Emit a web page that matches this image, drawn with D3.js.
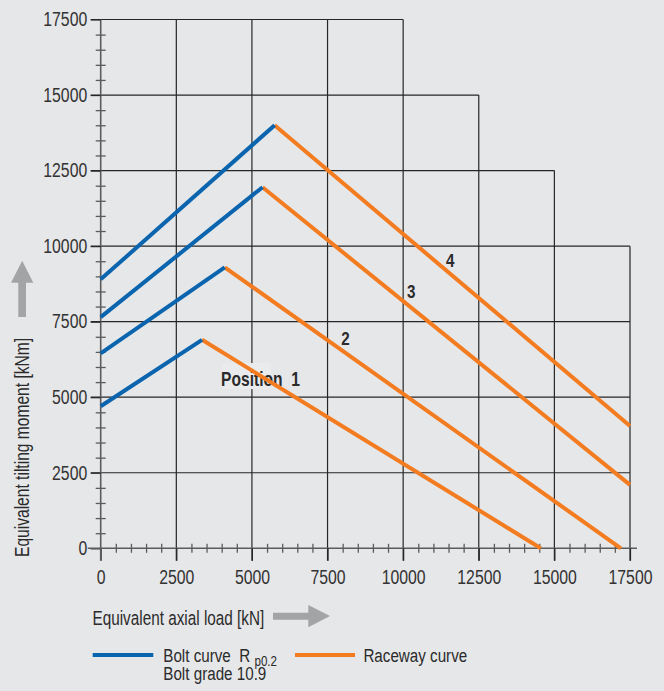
<!DOCTYPE html>
<html>
<head>
<meta charset="utf-8">
<script src="https://cdn.jsdelivr.net/npm/d3@7"></script>
<style>
  html, body { margin: 0; padding: 0; background: #e6e7e9; }
  svg { display: block; }
  text { font-family: "Liberation Sans", Arial, sans-serif; }
</style>
</head>
<body>
<svg id="chart" width="664" height="691"></svg>
<script>
// Axis ticks (kN on x, kNm on y) and where each grid line stops
const xTicks = [0, 2500, 5000, 7500, 10000, 12500, 15000, 17500];
const yTicks = [0, 2500, 5000, 7500, 10000, 12500, 15000, 17500];
const gridReach = [17500, 17500, 17500, 17500, 17500, 15000, 12500, 10000];
const minorStep = 500;

// Load limit curves for bearing positions 1-4
const positions = ["Position  1", "2", "3", "4"];
const boltStartMoment = [4700, 6450, 7650, 8900];     // at zero axial load
const peakLoad = [3350, 4100, 5350, 5750];
const peakMoment = [6900, 9300, 11950, 14000];
const racewayEndLoad = [14550, 17200, 17500, 17500];
const racewayEndMoment = [0, 0, 2100, 4050];

// Anchor of each position label (data units)
const labelLoad = [3980, 7950, 10130, 11420];
const labelMoment = [5370, 6720, 8280, 9300];

const legendItems = ["Bolt curve", "Raceway curve"];

const colors = { bolt: "#0a64ae", raceway: "#f47c20", grid: "#262626", axis: "#5c5c5c", arrow: "#a3a4a6", text: "#2b2b2b" };
const NARROW = 0.8;

// Squeeze text horizontally to a condensed face, keeping its anchor point
function condense(sel, k) {
  sel.each(function () {
    const t = d3.select(this);
    const x0 = +t.attr("x") || 0, y0 = +t.attr("y") || 0;
    t.attr("x", 0).attr("y", 0).attr("transform", `translate(${x0},${y0}) scale(${k},1)`);
  });
}

const svg = d3.select("#chart");
svg.append("rect").attr("width", 664).attr("height", 691).attr("fill", "#e6e7e9");

const x = d3.scaleLinear().domain([0, 17500]).range([100.7, 630]);
const y = d3.scaleLinear().domain([0, 17500]).range([548.3, 19.5]);

// Stepped grid
const grid = svg.append("g").attr("stroke", colors.grid).attr("stroke-width", 1.2);
xTicks.forEach((v, i) => {
  if (v === 0) return;
  grid.append("line")
    .attr("x1", x(v)).attr("x2", x(v))
    .attr("y1", y(0) + 12.5).attr("y2", y(gridReach[i]));
});
yTicks.forEach((v, i) => {
  if (v === 0) return;
  grid.append("line")
    .attr("x1", x(0) - 10).attr("x2", x(gridReach[i]))
    .attr("y1", y(v)).attr("y2", y(v));
});

// Minor ticks crossing both axes
const minorVals = d3.range(0, 17500 + 1, minorStep).filter(v => v % 2500 !== 0);
const minorX = svg.append("g")
  .attr("transform", `translate(0,${y(0) - 4.5})`)
  .call(d3.axisBottom(x).tickValues(minorVals).tickSize(9).tickFormat(""));
const minorY = svg.append("g")
  .attr("transform", `translate(${x(0) + 5},0)`)
  .call(d3.axisLeft(y).tickValues(minorVals).tickSize(10).tickFormat(""));
[minorX, minorY].forEach(g => {
  g.select(".domain").remove();
  g.selectAll("line").attr("stroke", colors.axis).attr("stroke-width", 1.3);
});

// Main axes with labels
const xAxis = svg.append("g")
  .attr("transform", `translate(0,${y(0)})`)
  .call(d3.axisBottom(x).tickValues(xTicks).tickSize(12.5).tickPadding(9).tickSizeOuter(0).tickFormat(d3.format("d")));
const yAxis = svg.append("g")
  .attr("transform", `translate(${x(0)},0)`)
  .call(d3.axisLeft(y).tickValues(yTicks).tickSize(10).tickPadding(3.5).tickSizeOuter(0).tickFormat(d3.format("d")));

xAxis.select(".domain").attr("d", `M${x(0) - 13},0H${x(17500) + 7}`);
yAxis.select(".domain").attr("d", `M0,${y(17500)}V${y(0) + 12.5}`);
[xAxis, yAxis].forEach(g => {
  g.select(".domain").attr("stroke", colors.axis).attr("stroke-width", 1.6);
  g.selectAll(".tick line").attr("stroke", colors.grid).attr("stroke-width", 1.2);
  g.selectAll(".tick text")
    .attr("fill", "#333")
    .style("font-size", "19.5px")
    .style("font-family", '"Liberation Sans", Arial, sans-serif')
    .call(condense, 0.81);
});
xAxis.selectAll(".tick").filter(d => d === 0).select("line").attr("stroke", colors.axis).attr("stroke-width", 1.6);
yAxis.selectAll(".tick").filter(d => d === 0).select("line").attr("stroke", colors.axis).attr("stroke-width", 1.6);

// Position labels (drawn beneath the curves)
const labels = svg.append("g").attr("fill", colors.text).style("font-weight", "bold");
positions.forEach((p, i) => {
  if (i === 0) {
    labels.append("rect")
      .attr("x", x(labelLoad[i]) + 1).attr("y", y(labelMoment[i]) - 23)
      .attr("width", 49).attr("height", 26)
      .attr("fill", "#eaebed");
  }
  labels.append("text")
    .attr("x", x(labelLoad[i])).attr("y", y(labelMoment[i]))
    .style("font-size", i === 0 ? "19.5px" : "19px")
    .style("white-space", "pre")
    .text(p)
    .call(condense, NARROW);
});

// Curves
const line = d3.line().x(d => x(d[0])).y(d => y(d[1]));
const curves = svg.append("g").attr("fill", "none").attr("stroke-width", 4).attr("stroke-linecap", "butt");
positions.forEach((p, i) => {
  curves.append("path")
    .attr("stroke", colors.raceway)
    .attr("d", line([[peakLoad[i], peakMoment[i]], [racewayEndLoad[i], racewayEndMoment[i]]]));
  curves.append("path")
    .attr("stroke", colors.bolt)
    .attr("d", line([[0, boltStartMoment[i]], [peakLoad[i], peakMoment[i]]]));
});

// Axis titles with direction arrows
svg.append("text")
  .attr("x", 92.5).attr("y", 625)
  .attr("fill", colors.text)
  .style("font-size", "19.5px")
  .text("Equivalent axial load [kN]")
  .call(condense, 0.785);
svg.append("path")
  .attr("fill", colors.arrow)
  .attr("d", "M273,612.7H308.3V605L330,616L308.3,627.3V619.7H273Z");

svg.append("text")
  .attr("transform", `translate(29,557) rotate(-90) scale(${NARROW},1)`)
  .attr("fill", colors.text)
  .style("font-size", "19.5px")
  .text("Equivalent tilting moment [kNm]");
svg.append("path")
  .attr("fill", colors.arrow)
  .attr("d", "M18.3,317V282.7H11L22.2,260.7L33.3,282.7H26V317Z");

// Legend
const legend = svg.append("g").attr("fill", colors.text).style("font-size", "19px");
legend.append("line").attr("x1", 92.7).attr("x2", 153.3).attr("y1", 655).attr("y2", 655)
  .attr("stroke", colors.bolt).attr("stroke-width", 4);
const boltText = legend.append("text").attr("x", 163.3).attr("y", 661.7).style("white-space", "pre");
boltText.append("tspan").text(legendItems[0] + "  R ");
boltText.append("tspan").attr("dy", 4.5).style("font-size", "14.5px").text("p0.2");
boltText.call(condense, NARROW);
legend.append("text").attr("x", 163.3).attr("y", 680).text("Bolt grade 10.9").call(condense, NARROW);

legend.append("line").attr("x1", 295).attr("x2", 355).attr("y1", 655).attr("y2", 655)
  .attr("stroke", colors.raceway).attr("stroke-width", 4);
legend.append("text").attr("x", 363.4).attr("y", 661.7).text(legendItems[1]).call(condense, NARROW);
</script>
</body>
</html>
